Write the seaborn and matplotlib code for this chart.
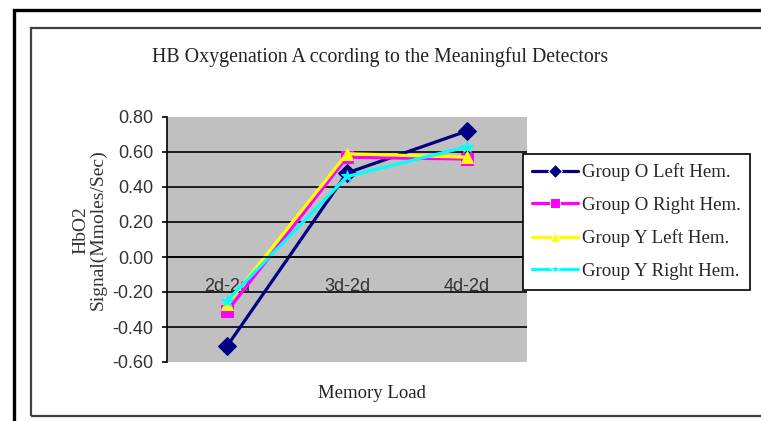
import matplotlib
matplotlib.use("Agg")
import matplotlib.pyplot as plt
import seaborn as sns
import pandas as pd
from matplotlib.patches import Rectangle

categories = ["2d-2d", "3d-2d", "4d-2d"]
series_names = ["Group O Left Hem.", "Group O Right Hem.", "Group Y Left Hem.", "Group Y Right Hem."]
o_left = [-0.51, 0.48, 0.72]
o_right = [-0.31, 0.57, 0.56]
y_left = [-0.27, 0.59, 0.57]
y_right = [-0.25, 0.46, 0.63]
yticks = [-0.60, -0.40, -0.20, 0.00, 0.20, 0.40, 0.60, 0.80]

colors = ["#000080", "#FF00FF", "#FFFF00", "#00FFFF"]
markers = ["D", "s", "^", "*"]

rows = []
for name, vals in zip(series_names, [o_left, o_right, y_left, y_right]):
    for c, v in zip(categories, vals):
        rows.append({"Memory Load": c, "value": v, "series": name})
df = pd.DataFrame(rows)

sns.set_theme(style="white")
plt.rcParams["font.family"] = ["Liberation Serif", "DejaVu Serif"]

W, H = 761, 421
fig = plt.figure(figsize=(W / 100, H / 100), dpi=100)
fig.patch.set_facecolor("white")

# frames
fig.add_artist(Rectangle((13.5 / W, -0.5), 2, (H - 10) / H + 0.5, transform=fig.transFigure,
                         fill=False, edgecolor="black", linewidth=2.4))
fig.add_artist(Rectangle((31 / W, 5 / H), 2, (H - 28 - 5) / H, transform=fig.transFigure,
                         fill=False, edgecolor="#404040", linewidth=1.6))

x0, x1, ytop, ybot = 167, 527, 117, 362
ax = fig.add_axes([x0 / W, (H - ybot) / H, (x1 - x0) / W, (ybot - ytop) / H])
ax.set_facecolor("#C0C0C0")

sns.lineplot(data=df, x="Memory Load", y="value", hue="series", style="series",
             hue_order=series_names, style_order=series_names,
             palette=colors, markers=markers, dashes=False, linewidth=2.3,
             markersize=9, ax=ax, sort=False)

for line, col in zip(ax.lines, colors):
    line.set_markeredgecolor(col)
    line.set_markerfacecolor(col)

ax.set_xlim(-0.5, 2.5)
ax.set_ylim(-0.60, 0.80)
ax.set_yticks(yticks)
ax.set_yticklabels([f"{v:.2f}" for v in yticks], family="Liberation Sans", fontsize=13, color="#333333")
ax.yaxis.grid(True, color="black", linewidth=1.2)
ax.set_axisbelow(True)
gl = ax.get_ygridlines()
gl[0].set_visible(False)
gl[-1].set_visible(False)

ax.spines["bottom"].set_position(("data", 0))
for s in ["top", "right"]:
    ax.spines[s].set_visible(False)
ax.spines["left"].set_color("black")
ax.spines["left"].set_linewidth(1.2)
ax.spines["bottom"].set_color("black")
ax.spines["bottom"].set_linewidth(1.2)

ax.set_xticks(range(len(categories)))
ax.set_xticklabels(categories, family="Liberation Sans", fontsize=13, color="#333333")
ax.set_xticks([0.5, 1.5], minor=True)
ax.tick_params(axis="x", which="major", length=0, pad=15)
ax.tick_params(axis="x", which="minor", length=3.5, width=1.2, direction="out", color="black")
ax.tick_params(axis="y", which="major", length=3.6, width=1.2, direction="out", color="black", pad=6, left=True)

ax.set_xlabel("Memory Load", fontsize=13.5, color="#222222")
ax.xaxis.set_label_coords((372 - x0) / (x1 - x0), -(393 - ybot) / (ybot - ytop), transform=ax.transAxes)
ax.xaxis.label.set_verticalalignment("center")
ax.set_ylabel("HbO2\nSignal(Mmoles/Sec)", fontsize=14, color="#333333", linespacing=1.0)
ax.yaxis.set_label_coords(-(x0 - 90) / (x1 - x0), (ybot - 230) / (ybot - ytop))
ax.yaxis.label.set_verticalalignment("center")

fig.text(380 / W, 1 - 57 / H, "HB Oxygenation A ccording to the Meaningful Detectors",
         ha="center", va="center", fontsize=14.3, color="#222222")

handles, labels = ax.get_legend_handles_labels()
if ax.get_legend() is not None:
    ax.get_legend().remove()
leg = fig.legend(handles, labels, loc="upper left",
                 bbox_to_anchor=(523 / W, 1 - 154 / H), bbox_transform=fig.transFigure,
                 frameon=True, fancybox=False, edgecolor="black", framealpha=1,
                 fontsize=13.6, handlelength=2.4, handletextpad=0.2, labelspacing=0.82,
                 borderpad=0.5, borderaxespad=0)
leg.get_frame().set_linewidth(1.2)
for h in leg.legend_handles:
    h.set_markersize(7)

fig.savefig("out.png", dpi=100)
